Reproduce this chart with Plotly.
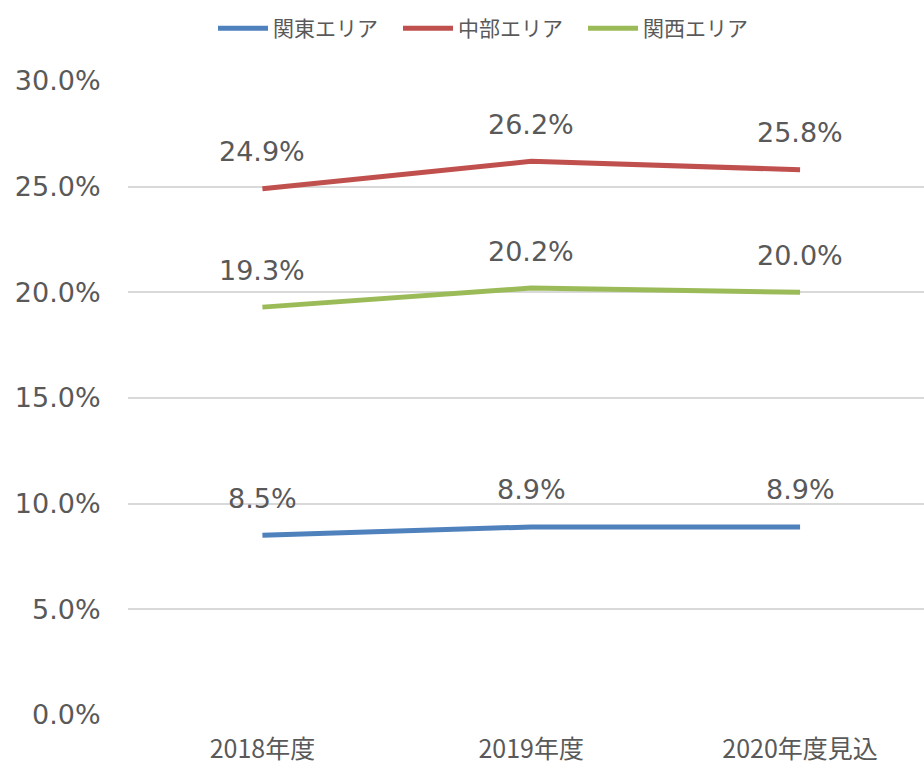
import plotly.graph_objects as go

categories = ["2018年度", "2019年度", "2020年度見込"]
series_names = ["関東エリア", "中部エリア", "関西エリア"]
kanto = [8.5, 8.9, 8.9]
chubu = [24.9, 26.2, 25.8]
kansai = [19.3, 20.2, 20.0]
colors = ["#4F81BD", "#C0504D", "#9BBB59"]
y_ticks = [0, 5, 10, 15, 20, 25, 30]

fig = go.Figure()
annotations = []
for name, vals, col in zip(series_names, [kanto, chubu, kansai], colors):
    fig.add_trace(go.Scatter(x=categories, y=vals, name=name, mode="lines",
                             line=dict(color=col, width=5)))
    for c, v in zip(categories, vals):
        annotations.append(dict(x=c, y=v, text=f"{v:.1f}%", showarrow=False,
                                yshift=37, font=dict(family="DejaVu Sans", size=27, color="#595959")))

fig.update_layout(
    width=924, height=768,
    margin=dict(l=128, r=0, t=81, b=53, autoexpand=False),
    plot_bgcolor="white", paper_bgcolor="white",
    showlegend=True,
    legend=dict(orientation="h", x=213 / 924, xanchor="left", xref="container",
                y=1 - 8 / 768, yref="container",
                yanchor="top", font=dict(family="Noto Sans CJK JP", size=21, color="#595959"),
                itemwidth=50, entrywidth=120, entrywidthmode="pixels", traceorder="normal"),
    annotations=annotations,
    xaxis=dict(type="category", range=[-0.5, 2.461], showgrid=False, showline=False,
               automargin=False,
               tickfont=dict(family="Noto Sans CJK JP", size=25, color="#595959"),
               ticks="outside", ticklen=12, tickcolor="rgba(0,0,0,0)"),
    yaxis=dict(range=[0, 30], tickvals=y_ticks, ticktext=[f"{t:.1f}%" for t in y_ticks],
               automargin=False,
               showgrid=True, gridcolor="#D9D9D9", gridwidth=1.5, zeroline=False,
               tickfont=dict(family="DejaVu Sans", size=27, color="#595959"),
               ticks="outside", ticklen=21, tickcolor="rgba(0,0,0,0)"),
)
fig.write_html("out.html", config={"displayModeBar": False},
               post_script="document.body.style.margin='0';document.body.style.overflow='hidden';")
